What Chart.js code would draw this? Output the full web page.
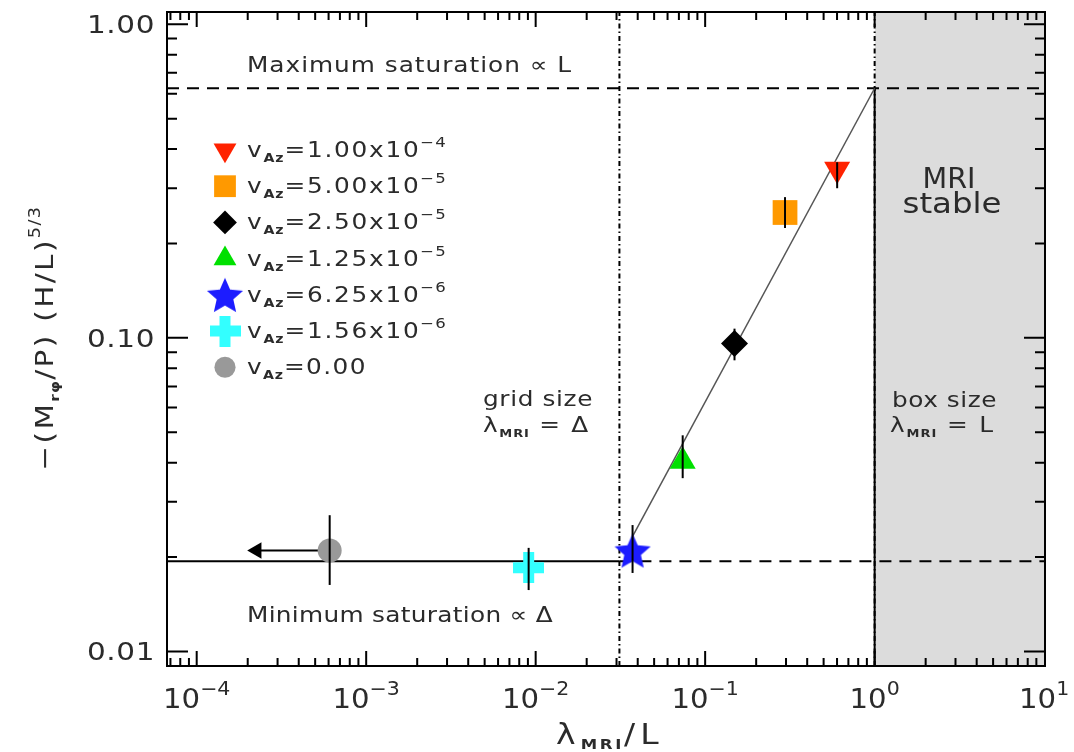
<!DOCTYPE html>
<html>
<head>
<meta charset="utf-8">
<script src="https://cdn.jsdelivr.net/npm/chart.js@4.4.1/dist/chart.umd.min.js"></script>
<style>
  html, body { margin: 0; padding: 0; background: #fff; }
</style>
</head>
<body>
<canvas id="chart" width="1074" height="752"></canvas>
<script>
// values
const vAzMantissa = ['1.00', '5.00', '2.50', '1.25', '6.25', '1.56', '0.00'];
const vAzExponent = ['\u22124', '\u22125', '\u22125', '\u22125', '\u22126', '\u22126', ''];
const lambdaRatio = [0.601, 0.296, 0.149, 0.0737, 0.0373, 0.00909, 0.000609];
const saturation = [0.345, 0.251, 0.0960, 0.0404, 0.0210, 0.0185, 0.0210];
const errLow = [0.300, 0.224, 0.0848, 0.0357, 0.0178, 0.0157, 0.0163];
const errHigh = [0.363, 0.281, 0.107, 0.0489, 0.0253, 0.0214, 0.0272];
const markerColor = ['#ff2200', '#ff9900', '#000000', '#00e000', '#1c1cff', '#33ffff', '#999999'];

const maxSaturation = 0.625;
const minSaturation = 0.0194;
const gridSize = 0.0312;
const boxSize = 1;
const fitStart = [0.0373, 0.0233];
const fitEnd = [1, 0.625];
const arrowHead = 0.000226;

const xTickExp = ['\u22124', '\u22123', '\u22122', '\u22121', '0', '1'];
const xTickValues = [1e-4, 1e-3, 1e-2, 1e-1, 1, 10];
const yTickValues = [0.01, 0.1, 1];
const yTickLabels = ['0.01', '0.10', '1.00'];
const xMin = 6.68e-5, xMax = 10.12;
const yMin = 0.00899, yMax = 1.094;

const TEXT = '#2b2b2b';

function makeStar(r, color) {
    const s = Math.ceil(r * 2 + 4);
    const c = document.createElement('canvas');
    c.width = s; c.height = s;
    const g = c.getContext('2d');
    g.fillStyle = color;
    g.beginPath();
    for (let i = 0; i < 10; i++) {
        const rr = i % 2 ? r * 0.46 : r;
        const a = -Math.PI / 2 + i * Math.PI / 5;
        g.lineTo(s / 2 + rr * Math.cos(a), s / 2 + rr * Math.sin(a) + r * 0.1);
    }
    g.closePath();
    g.fill();
    return c;
}

function makePlus(size, arm, color) {
    const c = document.createElement('canvas');
    c.width = size; c.height = size;
    const g = c.getContext('2d');
    g.fillStyle = color;
    g.fillRect((size - arm) / 2, 0, arm, size);
    g.fillRect(0, (size - arm) / 2, size, arm);
    return c;
}

const markerStyle = ['triangle', 'rect', 'rectRot', 'triangle', makeStar(19, markerColor[4]), makePlus(31, 11, markerColor[5]), 'circle'];
const markerRadius = [15, 17.5, 13.5, 15, 16, 15, 12];
const markerRotation = [180, 0, 0, 0, 0, 0, 0];

// draws text pieces one after another, widened (stretch, then spacing) to fill `target` px;
// without a target the run is only stretched by `sxFixed`
function drawRich(ctx, parts, x, y, target, align, sxFixed) {
    const measure = k => {
        let w = 0;
        parts.forEach(p => {
            ctx.font = p.font;
            ctx.letterSpacing = (k * p.size) + 'px';
            w += ctx.measureText(p.t).width;
        });
        return w;
    };
    const w0 = measure(0);
    let sx = sxFixed || 1, k = 0;
    if (target) {
        sx = Math.min(1.18, target / w0);
        let weight = 0;
        parts.forEach(p => weight += p.t.length * p.size);
        k = Math.max(0, (target / sx - w0) / weight);
    }
    const w = measure(k) * sx;
    let cx = align === 'center' ? x - w / 2 : align === 'right' ? x - w : x;
    ctx.textAlign = 'left';
    parts.forEach(p => {
        ctx.font = p.font;
        ctx.letterSpacing = (k * p.size) + 'px';
        ctx.save();
        ctx.translate(cx, y + (p.dy || 0));
        ctx.scale(sx, 1);
        ctx.fillText(p.t, 0, 0);
        ctx.restore();
        cx += ctx.measureText(p.t).width * sx;
    });
    ctx.letterSpacing = '0px';
}

const P = (t, size, dy, bold) => ({t: t, size: size, dy: dy || 0, font: (bold ? 'bold ' : '') + size + 'px "DejaVu Sans"'});

const decorations = {
    id: 'decorations',
    afterDatasetsDraw(chart) {
        const ctx = chart.ctx;
        const xs = chart.scales.x, ys = chart.scales.y;
        const area = chart.chartArea;
        ctx.save();

        // error bars
        ctx.strokeStyle = '#000';
        ctx.lineWidth = 2;
        lambdaRatio.forEach((v, i) => {
            const px = xs.getPixelForValue(v);
            ctx.beginPath();
            ctx.moveTo(px, ys.getPixelForValue(errLow[i]));
            ctx.lineTo(px, ys.getPixelForValue(errHigh[i]));
            ctx.stroke();
        });

        // frame
        ctx.strokeRect(area.left, area.top, area.right - area.left, area.bottom - area.top);

        // inward ticks
        ctx.beginPath();
        for (let e = -5; e <= 1; e++) {
            for (let m = 1; m <= 9; m++) {
                const v = m * Math.pow(10, e);
                const px = xs.getPixelForValue(v);
                if (px < area.left + 3 || px > area.right - 2) continue;
                const len = m === 1 ? 15 : 8;
                ctx.moveTo(px, area.bottom); ctx.lineTo(px, area.bottom - len);
                ctx.moveTo(px, area.top); ctx.lineTo(px, area.top + len);
            }
        }
        for (let e = -3; e <= 0; e++) {
            for (let m = 1; m <= 9; m++) {
                const v = m * Math.pow(10, e);
                const py = ys.getPixelForValue(v);
                if (py < area.top + 3 || py > area.bottom - 3) continue;
                const len = m === 1 ? 21 : 10;
                ctx.moveTo(area.left, py); ctx.lineTo(area.left + len, py);
                ctx.moveTo(area.right, py); ctx.lineTo(area.right - len, py);
            }
        }
        ctx.stroke();

        ctx.fillStyle = TEXT;
        ctx.textBaseline = 'alphabetic';

        // tick labels
        xTickValues.forEach((v, i) => {
            const px = xs.getPixelForValue(v);
            drawRich(ctx, [P('10', 27), P(xTickExp[i], 19, -13)], px, 708, 0, 'center', 1.08);
        });
        yTickValues.forEach((v, i) => {
            const py = ys.getPixelForValue(v);
            drawRich(ctx, [P(yTickLabels[i], 25)], 155, py + 9, 68, 'right');
        });

        // axis titles
        drawRich(ctx, [P('\u03bb', 28), P('MRI', 14, 5, true), P('/L', 28)], 610, 744, 108, 'center');
        ctx.save();
        ctx.translate(53, 338);
        ctx.rotate(-Math.PI / 2);
        drawRich(ctx, [
            P('\u2212(M', 25), P('r\u03c6', 13, 6, true), P('/P) (H/L)', 25), P('5/3', 15, -13)
        ], 0, 0, 265, 'center');
        ctx.restore();

        // annotations
        drawRich(ctx, [P('Maximum saturation \u221d L', 21)], 247, 72, 325, 'left');
        drawRich(ctx, [P('Minimum saturation \u221d \u0394', 21)], 247, 622, 306, 'left');
        drawRich(ctx, [P('grid size', 21)], 483, 406, 110, 'left');
        drawRich(ctx, [P('\u03bb', 21), P('MRI', 11, 5, true), P(' = \u0394', 21)], 483, 432, 107, 'left');
        drawRich(ctx, [P('box size', 21)], 892, 407, 105, 'left');
        drawRich(ctx, [P('\u03bb', 21), P('MRI', 11, 5, true), P(' = L', 21)], 890, 432, 105, 'left');
        drawRich(ctx, [P('MRI', 28)], 949, 188, 53, 'center');
        drawRich(ctx, [P('stable', 28)], 952, 213, 99, 'center');

        // legend
        vAzMantissa.forEach((m, i) => {
            const cy = 150 + i * 36.2;
            ctx.fillStyle = markerColor[i];
            ctx.strokeStyle = markerColor[i];
            Chart.helpers.drawPoint(ctx, {
                pointStyle: markerStyle[i],
                rotation: markerRotation[i],
                radius: markerRadius[i] * 0.88,
                borderWidth: 0
            }, 225, cy);
            ctx.fillStyle = TEXT;
            const parts = [P('v', 21), P('Az', 12, 5, true), P('=' + m + (vAzExponent[i] ? 'x10' : ''), 21)];
            if (vAzExponent[i]) parts.push(P(vAzExponent[i], 14, -10));
            drawRich(ctx, parts, 247, cy + 7, vAzExponent[i] ? 200 : 120, 'left');
        });

        ctx.restore();
    }
};

const markerSets = lambdaRatio.map((x, i) => ({
    type: 'scatter',
    data: [{x: x, y: saturation[i]}],
    pointStyle: markerStyle[i],
    pointRadius: markerRadius[i],
    pointRotation: markerRotation[i],
    pointBackgroundColor: markerColor[i],
    pointBorderColor: markerColor[i],
    pointBorderWidth: 0
}));

const lineSet = (data, opts) => Object.assign({
    type: 'line',
    data: data,
    borderColor: '#000',
    borderWidth: 2,
    pointRadius: 0,
    fill: false
}, opts);

const dashDot = [5, 3, 1.5, 3];

const datasets = markerSets.concat([
    lineSet([{x: lambdaRatio[6], y: saturation[6]}, {x: arrowHead, y: saturation[6]}], {
        pointRadius: [0, 9.5], pointStyle: 'triangle', pointRotation: 270,
        pointBackgroundColor: '#000', pointBorderWidth: 0
    }),
    lineSet([{x: fitStart[0], y: fitStart[1]}, {x: fitEnd[0], y: fitEnd[1]}], {borderColor: '#555', borderWidth: 1.5}),
    lineSet([{x: xMin, y: maxSaturation}, {x: xMax, y: maxSaturation}], {borderDash: [12, 8]}),
    lineSet([{x: xMin, y: minSaturation}, {x: gridSize, y: minSaturation}], {}),
    lineSet([{x: gridSize, y: minSaturation}, {x: xMax, y: minSaturation}], {borderDash: [12, 8]}),
    lineSet([{x: gridSize, y: yMin}, {x: gridSize, y: yMax}], {borderDash: dashDot}),
    lineSet([{x: boxSize, y: yMin}, {x: boxSize, y: yMax}], {borderDash: dashDot}),
    lineSet([{x: boxSize, y: yMin}, {x: boxSize, y: maxSaturation}], {}),
    lineSet([{x: boxSize, y: yMax}, {x: xMax, y: yMax}], {
        borderWidth: 0, fill: 'start', backgroundColor: '#dcdcdc'
    })
]);

new Chart(document.getElementById('chart'), {
    type: 'scatter',
    data: {datasets: datasets},
    options: {
        responsive: false,
        animation: false,
        devicePixelRatio: 1,
        layout: {autoPadding: false, padding: {left: 167, top: 12, right: 29, bottom: 86}},
        scales: {
            x: {type: 'logarithmic', min: xMin, max: xMax, display: false},
            y: {type: 'logarithmic', min: yMin, max: yMax, display: false}
        },
        plugins: {
            legend: {display: false},
            tooltip: {enabled: false}
        }
    },
    plugins: [decorations]
});
</script>
</body>
</html>
